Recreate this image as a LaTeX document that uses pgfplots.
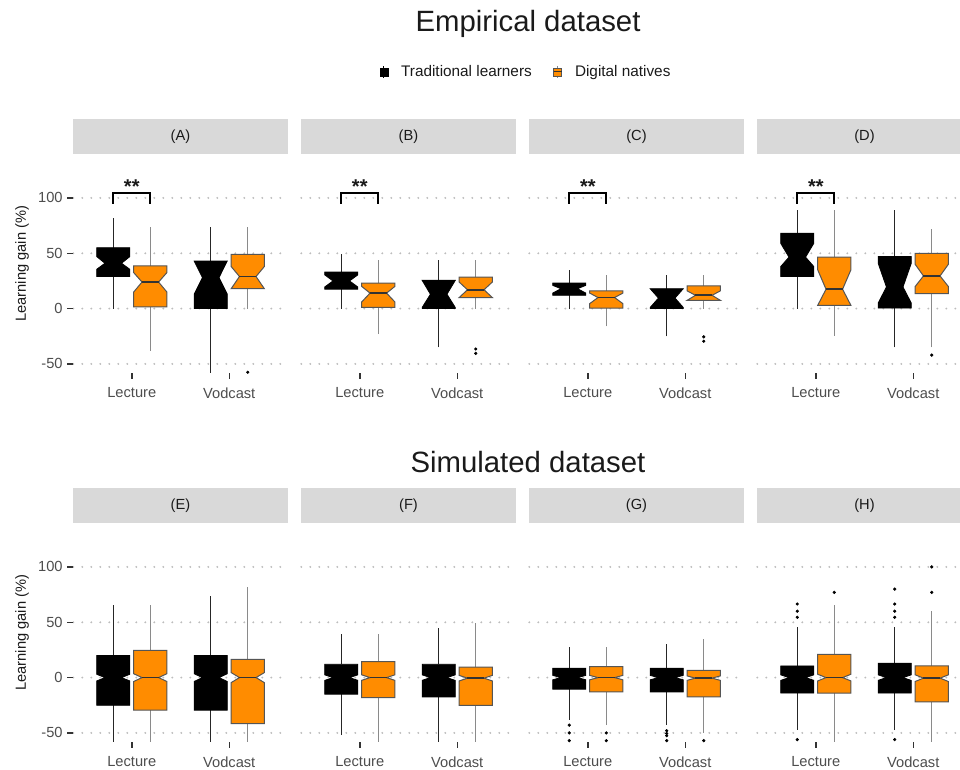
\documentclass[border=0pt]{standalone}
\usepackage{pgfplots}
\pgfplotsset{compat=1.18}
\usepackage{fontspec}
\setmainfont{Liberation Sans}
\definecolor{dorange}{HTML}{FF8C00}
\definecolor{stripgrey}{HTML}{D9D9D9}
\definecolor{labgrey}{HTML}{4D4D4D}
\definecolor{gridgrey}{HTML}{BDBDBD}
\definecolor{txt}{HTML}{1A1A1A}
\definecolor{tickc}{HTML}{333333}
\definecolor{boxedge}{HTML}{555555}
\definecolor{dnw}{HTML}{8A8A8A}

\pgfplotsset{
  every axis title shift=0pt,
  panel/.style={scale only axis, width=160.8pt, height=163.9pt,
    xmin=0.4, xmax=2.6, ymin=-58.2, ymax=139.3,
    axis line style={draw=none},
    xtick={1,2}, xticklabels={Lecture,Vodcast},
    ytick={-50,0,50,100}, yticklabels={-50,0,50,100},
    xtick pos=left, ytick pos=left,
    tick align=outside, major tick length=4.5pt,
    tick style={tickc, line width=1.1pt},
    ymajorgrids=true,
    major grid style={gridgrey, line width=1.6pt, line cap=round, dash pattern=on 0pt off 6.75pt},
    ticklabel style={font=\fontsize{11}{13}\selectfont, text=labgrey},
    xticklabel style={yshift=-3pt},
    title style={at={(0.5,1)}, anchor=south, yshift=0pt, fill=stripgrey, minimum width=160.8pt,
      minimum height=26.5pt, inner sep=0pt, font=\fontsize{11}{13}\selectfont, text=txt},
    ylabel style={at={(axis description cs:-0.239,0.5)}, anchor=center,
      font=\fontsize{11}{13}\selectfont, text=txt},
  },
  nolab/.style={yticklabels={}, ytick style={draw=none}},
  tlbox/.style={fill=black, draw=black, line width=0.6pt},
  dnbox/.style={fill=dorange, draw=boxedge, line width=0.75pt},
  tlwhisk/.style={draw=black!85, line width=0.75pt},
  dnwhisk/.style={draw=dnw, line width=0.75pt},
  tlmed/.style={draw=black, line width=1.2pt},
  dnmed/.style={draw=tickc, line width=1.3pt},
  outl/.style={only marks, mark=*, mark size=1pt, mark options={draw=black, fill=black}},
  sig/.style={black, line width=1.5pt},
}

% notched box: x, lower whisker, q1, median, q3, upper whisker, notch low, notch high, type
\newcommand\nbox[9]{%
  \pgfmathsetmacro\xl{#1-0.17}%
  \pgfmathsetmacro\xr{#1+0.17}%
  \pgfmathsetmacro\xnl{#1-0.085}%
  \pgfmathsetmacro\xnr{#1+0.085}%
  \edef\tmp{%
    \noexpand\addplot[#9whisk] coordinates {(#1,#5) (#1,#6)};
    \noexpand\addplot[#9whisk] coordinates {(#1,#2) (#1,#3)};
    \noexpand\addplot[#9box] coordinates {(\xl,#3) (\xr,#3) (\xr,#7) (\xnr,#4) (\xr,#8) (\xr,#5) (\xl,#5) (\xl,#8) (\xnl,#4) (\xl,#7)} --cycle;
    \noexpand\addplot[#9med] coordinates {(\xnl,#4) (\xnr,#4)};
  }\tmp}

\begin{document}
\begin{tikzpicture}
\useasboundingbox (0,0) rectangle (720pt,577.5pt);
\clip (0,0) rectangle (720pt,577.5pt);

\node[font=\fontsize{22}{26}\selectfont, text=txt] at (396pt,559.5pt) {Empirical dataset};
\node[font=\fontsize{22}{26}\selectfont, text=txt] at (396pt,231pt) {Simulated dataset};

% ---------------- (A)
\begin{axis}[panel, at={(54.98pt,297.75pt)}, anchor=south west, title={(A)},
  ylabel={Learning gain (\%)},
  legend style={at={(axis description cs:2.113,1.3776)}, anchor=center, draw=none, fill=none,
    legend columns=2, font=\fontsize{11.5}{13}\selectfont, text=txt,
    /tikz/every even column/.append style={column sep=14pt}},
  legend cell align=left]
\addlegendimage{legend image code/.code={\path[draw=none,fill=none] (0pt,0pt) -- (14pt,0pt); \draw[black,line width=0.6pt] (3pt,-4.5pt)--(3pt,4.5pt); \fill[black] (0pt,-3pt) rectangle (6pt,3pt);}}
\addlegendentry{Traditional learners}
\addlegendimage{legend image code/.code={\path[draw=none,fill=none] (0pt,0pt) -- (14pt,0pt); \draw[dnw,line width=0.6pt] (3pt,-4.5pt)--(3pt,4.5pt); \draw[fill=dorange,draw=boxedge,line width=0.5pt] (0pt,-3pt) rectangle (6pt,3pt); \draw[tickc,line width=0.8pt] (0pt,0pt)--(6pt,0pt);}}
\addlegendentry{Digital natives}
\nbox{0.81}{0}{29}{41}{55}{82}{35.5}{47}{tl}
\nbox{1.19}{-38}{1.5}{24}{38.5}{74}{15}{32.5}{dn}
\nbox{1.81}{-60}{0}{28}{43}{74}{13}{43}{tl}
\nbox{2.19}{0}{18}{29}{49}{74}{18}{38}{dn}
\addplot[outl] coordinates {(2.19,-57.5)};
\addplot[sig] coordinates {(0.81,94.6) (0.81,104.6) (1.19,104.6) (1.19,94.6)};
\node[font=\bfseries\fontsize{15}{15}\selectfont, text=txt] at (axis cs:1,110) {**};
\end{axis}

% ---------------- (B)
\begin{axis}[panel, nolab, at={(225.98pt,297.75pt)}, anchor=south west, title={(B)}]
\nbox{0.81}{0}{17.5}{25}{33}{49}{19.5}{30.5}{tl}
\nbox{1.19}{-23}{1}{14}{23}{44}{6}{20}{dn}
\nbox{1.81}{-35}{0}{13}{25.5}{44}{1}{25.5}{tl}
\nbox{2.19}{0}{10}{17}{28.5}{44}{10}{24}{dn}
\addplot[outl] coordinates {(2.19,-36.5) (2.19,-40.5)};
\addplot[sig] coordinates {(0.81,94.6) (0.81,104.6) (1.19,104.6) (1.19,94.6)};
\node[font=\bfseries\fontsize{15}{15}\selectfont, text=txt] at (axis cs:1,110) {**};
\end{axis}

% ---------------- (C)
\begin{axis}[panel, nolab, at={(396.98pt,297.75pt)}, anchor=south west, title={(C)}]
\nbox{0.81}{0}{12}{18}{23}{34.5}{14}{21}{tl}
\nbox{1.19}{-16}{0.5}{10}{16}{30.5}{4.5}{14}{dn}
\nbox{1.81}{-25}{0}{9.5}{18}{30.5}{1}{18}{tl}
\nbox{2.19}{0}{7.5}{12}{20.5}{30.5}{7.5}{16}{dn}
\addplot[outl] coordinates {(2.19,-25.5) (2.19,-29.5)};
\addplot[sig] coordinates {(0.81,94.6) (0.81,104.6) (1.19,104.6) (1.19,94.6)};
\node[font=\bfseries\fontsize{15}{15}\selectfont, text=txt] at (axis cs:1,110) {**};
\end{axis}

% ---------------- (D)
\begin{axis}[panel, nolab, at={(567.98pt,297.75pt)}, anchor=south west, title={(D)}]
\nbox{0.81}{0}{29}{46.5}{68}{89}{38}{59}{tl}
\nbox{1.19}{-24.5}{3}{17.5}{46.5}{89}{3}{35}{dn}
\nbox{1.81}{-35}{0.5}{19.5}{47}{89}{5}{41}{tl}
\nbox{2.19}{-35}{13.5}{29.5}{50}{72}{20}{40}{dn}
\addplot[outl] coordinates {(2.19,-42)};
\addplot[sig] coordinates {(0.81,94.6) (0.81,104.6) (1.19,104.6) (1.19,94.6)};
\node[font=\bfseries\fontsize{15}{15}\selectfont, text=txt] at (axis cs:1,110) {**};
\end{axis}

% ---------------- (E)
\begin{axis}[panel, at={(54.98pt,21pt)}, anchor=south west, title={(E)},
  ylabel={Learning gain (\%)}]
\nbox{0.81}{-60}{-25}{0}{20}{65.5}{-3}{3}{tl}
\nbox{1.19}{-60}{-29.5}{0}{24.5}{65.5}{-3.5}{3.5}{dn}
\nbox{1.81}{-60}{-29.5}{0}{20}{73.5}{-3.5}{3.5}{tl}
\nbox{2.19}{-60}{-41.5}{0}{16.5}{82}{-4.5}{4.5}{dn}
\end{axis}

% ---------------- (F)
\begin{axis}[panel, nolab, at={(225.98pt,21pt)}, anchor=south west, title={(F)}]
\nbox{0.81}{-52}{-15}{0}{12}{39}{-2.5}{2.5}{tl}
\nbox{1.19}{-60}{-18}{0}{14.5}{39}{-2.5}{2.5}{dn}
\nbox{1.81}{-60}{-17.5}{0}{12}{44.5}{-2.5}{2.5}{tl}
\nbox{2.19}{-60}{-25}{-0.5}{9.5}{49}{-3}{2}{dn}
\addplot[outl] coordinates {(0.81,-58.5)};
\end{axis}

% ---------------- (G)
\begin{axis}[panel, nolab, at={(396.98pt,21pt)}, anchor=south west, title={(G)}]
\nbox{0.81}{-38}{-10.5}{0}{8.5}{27.5}{-2}{2}{tl}
\nbox{1.19}{-43}{-13}{0}{10}{27.5}{-2}{2}{dn}
\nbox{1.81}{-43}{-13}{0}{8.5}{30.5}{-2}{2}{tl}
\nbox{2.19}{-50}{-17.5}{-0.5}{6.5}{34.5}{-2.5}{1.5}{dn}
\addplot[outl] coordinates {(0.81,-43) (0.81,-50) (0.81,-57)};
\addplot[outl] coordinates {(1.19,-50) (1.19,-57)};
\addplot[outl] coordinates {(1.81,-48) (1.81,-50.5) (1.81,-52.5) (1.81,-57)};
\addplot[outl] coordinates {(2.19,-57)};
\end{axis}

% ---------------- (H)
\begin{axis}[panel, nolab, at={(567.98pt,21pt)}, anchor=south west, title={(H)}]
\nbox{0.81}{-47}{-14}{0}{10.5}{46}{-2.5}{2.5}{tl}
\nbox{1.19}{-60}{-14}{0}{21}{66}{-3}{3}{dn}
\nbox{1.81}{-47.5}{-14}{0}{13}{46}{-2.5}{2.5}{tl}
\nbox{2.19}{-60}{-22}{-0.5}{10.5}{60}{-3.5}{2.5}{dn}
\addplot[outl] coordinates {(0.81,54.5) (0.81,60) (0.81,66.5) (0.81,-56)};
\addplot[outl] coordinates {(1.19,77)};
\addplot[outl] coordinates {(1.81,54.5) (1.81,60) (1.81,66.5) (1.81,80) (1.81,-56)};
\addplot[outl] coordinates {(2.19,77) (2.19,100)};
\end{axis}
\end{tikzpicture}
\end{document}
